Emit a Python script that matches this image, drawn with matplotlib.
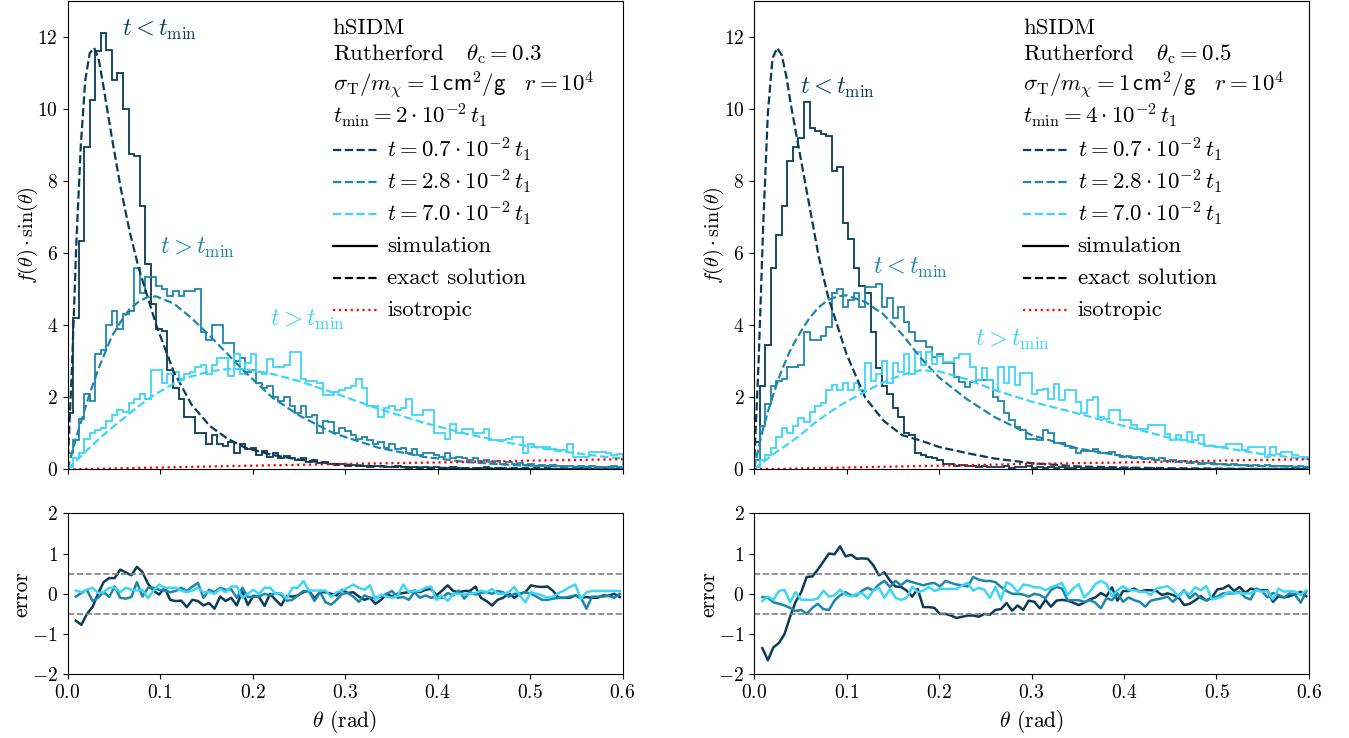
import numpy as np
import matplotlib
matplotlib.use("Agg")
import matplotlib.pyplot as plt
from matplotlib.lines import Line2D

plt.rcParams.update({
    "font.family": "serif",
    "font.serif": ["cmr10", "DejaVu Serif"],
    "mathtext.fontset": "cm",
    "axes.formatter.use_mathtext": True,
})

# ---------------- data ----------------
bin_edges = np.linspace(0.0, 0.6, 101)
err_theta = (bin_edges[1:-1] + bin_edges[2:]) / 2  # centres of bins 1..99

colors = ["#0b3c55", "#1e86ab", "#3dd5f8"]

# exact solutions (left panel, theta_c = 0.3)
theta_exact_l = [0, 0.0048, 0.0096, 0.0144, 0.0192, 0.024, 0.0288, 0.0336, 0.0384, 0.048,
                 0.0576, 0.0672, 0.0768, 0.0864, 0.096, 0.115, 0.134, 0.154, 0.173, 0.192,
                 0.221, 0.25, 0.288, 0.336, 0.384, 0.432, 0.48, 0.528, 0.576, 0.6]
exact_l_07 = [0, 2.8, 6.3, 9.0, 10.8, 11.55, 11.7, 11.4, 10.7, 9.2, 7.8, 6.6, 5.6, 4.8, 4.0,
              2.7, 1.8, 1.2, 0.85, 0.6, 0.4, 0.27, 0.15, 0.08, 0.05, 0.03, 0.02, 0.01, 0.01, 0.01]
exact_l_28 = [0, 0.45, 0.9, 1.3, 1.7, 2.1, 2.45, 2.8, 3.1, 3.7, 4.1, 4.45, 4.65, 4.78, 4.8,
              4.6, 4.2, 3.7, 3.2, 2.7, 2.0, 1.5, 1.0, 0.6, 0.35, 0.2, 0.12, 0.08, 0.05, 0.045]
exact_l_70 = [0, 0.12, 0.24, 0.36, 0.48, 0.6, 0.72, 0.83, 0.94, 1.15, 1.35, 1.55, 1.75, 1.93,
              2.1, 2.38, 2.58, 2.72, 2.78, 2.78, 2.65, 2.45, 2.12, 1.68, 1.3, 0.98, 0.72, 0.52,
              0.36, 0.3]

# exact solutions (right panel, theta_c = 0.5)
theta_exact_r = [0, 0.005, 0.01, 0.015, 0.02, 0.025, 0.03, 0.035, 0.04, 0.05, 0.06, 0.07,
                 0.08, 0.09, 0.10, 0.12, 0.14, 0.16, 0.18, 0.20, 0.23, 0.26, 0.30, 0.35, 0.40,
                 0.45, 0.50, 0.55, 0.60]
exact_r_07 = [0, 3.0, 6.8, 9.9, 11.4, 11.7, 11.5, 10.9, 10.1, 8.7, 7.3, 5.9, 4.8, 4.0, 3.2,
              2.0, 1.35, 0.95, 0.8, 0.62, 0.45, 0.3, 0.17, 0.08, 0.05, 0.03, 0.02, 0.01, 0.01]
exact_r_28 = [0, 0.6, 1.15, 1.6, 2.0, 2.4, 2.75, 3.05, 3.35, 3.8, 4.2, 4.5, 4.7, 4.8, 4.83,
              4.65, 4.3, 3.75, 3.1, 2.55, 1.95, 1.45, 0.95, 0.58, 0.36, 0.22, 0.14, 0.09, 0.06]
exact_r_70 = [0, 0.1, 0.2, 0.3, 0.4, 0.5, 0.58, 0.67, 0.76, 0.95, 1.17, 1.37, 1.55, 1.72, 1.88,
              2.15, 2.42, 2.62, 2.75, 2.72, 2.5, 2.2, 1.88, 1.55, 1.2, 0.87, 0.63, 0.42, 0.28]

theta_iso = [0, 0.1, 0.2, 0.3, 0.4, 0.5, 0.6]
iso = [0, 0.05, 0.1, 0.15, 0.19, 0.24, 0.28]

# simulated histograms, left panel
sim_l_07 = [1.55, 4.2, 6.35, 8.95, 10.25, 11.6, 12.1, 11.65, 10.8, 11.0, 10.0, 8.75, 8.7, 7.3,
            5.7, 4.6, 3.9, 3.85, 2.75, 2.25, 1.95, 1.45, 1.45, 1.0, 1.0, 0.7, 0.95, 0.7, 0.65,
            0.75, 0.45,
            0.7, 0.55, 0.6, 0.4, 0.5, 0.35, 0.45, 0.3, 0.38, 0.3, 0.25, 0.3, 0.2, 0.25, 0.18,
            0.2, 0.15, 0.12, 0.15, 0.1, 0.12, 0.08, 0.1, 0.06, 0.08, 0.1, 0.05, 0.06, 0.08, 0.05,
            0.04, 0.06, 0.03, 0.05, 0.04, 0.06, 0.03, 0.04, 0.05, 0.03, 0.04, 0.02, 0.04, 0.03,
            0.05, 0.02, 0.03, 0.04, 0.02, 0.03, 0.02, 0.04, 0.02, 0.03, 0.02, 0.03, 0.02, 0.02,
            0.03, 0.02, 0.02, 0.03, 0.01, 0.02, 0.02, 0.01, 0.02, 0.01, 0.02]
sim_l_28 = [0.45, 0.8, 1.4, 2.1, 1.9, 3.2, 3.3, 4.0, 4.4, 3.9, 4.3, 4.4, 5.6, 4.9, 5.35, 5.35,
            5.1, 5.0, 4.8, 4.95, 4.8, 4.95, 4.95, 5.0, 3.8, 3.6, 4.0, 4.0, 3.5, 3.5, 3.0,
            3.1, 2.7, 2.75, 2.4, 2.25, 2.3, 2.0, 1.9, 2.0, 1.75, 1.55, 1.75, 1.45, 1.5, 1.0,
            1.35, 1.3, 1.0, 1.15, 1.05, 0.95, 0.85, 0.9, 0.8, 0.7, 0.75, 0.6, 0.7, 0.55, 0.6,
            0.45, 0.55, 0.4, 0.45,
            0.45, 0.4, 0.35, 0.45, 0.3, 0.35, 0.3, 0.25, 0.3, 0.22, 0.25, 0.2, 0.22, 0.15, 0.2,
            0.15, 0.17, 0.12, 0.15, 0.1, 0.13, 0.1, 0.12, 0.08, 0.1, 0.09, 0.07, 0.1, 0.06, 0.08,
            0.06, 0.07, 0.05, 0.08, 0.05]
sim_l_70 = [0.07, 0.3, 0.45, 0.85, 1.0, 1.1, 1.15, 1.35, 1.5, 1.65, 1.6, 1.85, 1.95, 2.1, 1.95,
            2.75, 2.75, 2.4, 2.65, 2.7, 2.5, 2.65, 2.7, 2.85, 2.9, 2.65, 2.9, 3.1, 3.1, 2.6, 3.2,
            2.65, 2.95, 3.2, 2.7, 2.65, 3.05, 2.85, 2.85, 2.9, 3.25, 3.25, 2.5, 2.45, 2.45, 2.4,
            2.05, 2.05, 2.15, 2.2, 2.25, 2.3, 2.5, 2.25, 1.75, 1.75, 1.45, 1.7, 1.75, 1.65, 1.7,
            1.95,
            1.5, 1.5, 1.64, 1.64, 1.0, 1.0, 0.85, 1.27, 1.0, 1.13, 1.13, 1.0, 1.0, 1.13, 0.81,
            0.81, 0.81, 0.85, 0.9, 0.9, 0.45, 0.71, 0.62, 0.62, 0.62, 0.55, 0.53, 0.53, 0.71,
            0.35, 0.34, 0.34, 0.48, 0.48, 0.48, 0.45, 0.4, 0.42]

# simulated histograms, right panel
sim_r_07 = [0.77, 2.3, 3.45, 5.6, 6.5, 7.3, 8.55, 8.96, 9.2, 10.2, 9.47, 9.4, 9.3, 9.24, 8.27,
            8.4, 6.83, 6.4, 5.58, 5.1, 4.9, 3.8, 2.8, 2.3, 2.1, 1.7, 1.46, 1.0, 0.95, 0.44, 0.4,
            0.35, 0.3, 0.25, 0.15, 0.15, 0.1, 0.12, 0.08, 0.1, 0.06, 0.08, 0.05, 0.07, 0.05, 0.08,
            0.04, 0.06, 0.05, 0.08, 0.04, 0.05, 0.04, 0.06, 0.03, 0.05, 0.04, 0.03, 0.05, 0.03,
            0.04, 0.03, 0.02, 0.04, 0.03, 0.02, 0.03, 0.02, 0.03, 0.02, 0.02, 0.03, 0.02, 0.01,
            0.02, 0.02, 0.01, 0.02, 0.01, 0.02, 0.01, 0.02, 0.01, 0.01, 0.02, 0.01, 0.01, 0.02,
            0.01, 0.01, 0.01, 0.02, 0.01, 0.01, 0.01, 0.02, 0.01, 0.01, 0.01, 0.01]
sim_r_28 = [0.26, 1.2, 1.8, 2.3, 2.45, 2.5, 2.85, 2.85, 2.9, 3.8, 3.6, 3.6, 3.7, 3.95, 4.9, 5.0,
            4.5, 4.7, 4.9, 4.5, 5.05, 5.05, 5.15, 4.5, 4.75, 4.2, 4.5, 4.1, 3.8, 3.55, 3.55,
            3.4, 3.12, 3.2, 2.94, 2.94, 2.56, 2.42, 2.29, 2.42, 2.47, 2.47, 2.47, 2.0, 1.9, 1.55,
            1.36, 1.18, 1.1, 0.85, 0.85, 0.82, 1.08, 1.0, 0.73, 0.73, 0.65, 0.6, 0.44, 0.5, 0.5,
            0.57, 0.44,
            0.45, 0.48, 0.4, 0.35, 0.38, 0.3, 0.35, 0.28, 0.32, 0.25, 0.3, 0.22, 0.25, 0.2, 0.24,
            0.18, 0.2, 0.15, 0.18, 0.17, 0.14, 0.16, 0.12, 0.15, 0.11, 0.13, 0.1, 0.12, 0.09,
            0.11, 0.08, 0.1, 0.08, 0.09, 0.07, 0.09, 0.07]
sim_r_70 = [0.07, 0.26, 0.4, 0.58, 0.9, 1.14, 1.0, 1.2, 1.42, 1.3, 1.6, 1.75, 1.85, 2.2, 2.34,
            2.2, 2.4, 2.2, 2.4, 2.2, 2.95, 2.45, 2.65, 3.0, 2.4, 2.95, 2.7, 3.2, 2.65, 3.25, 2.9,
            3.26, 2.93, 3.15, 2.97, 2.97, 3.1, 3.2, 3.2, 2.84, 2.47, 2.8, 2.47, 2.19, 2.84, 2.4,
            2.84, 2.35, 2.66, 2.66, 2.1, 2.19, 2.24, 1.96, 2.38, 1.92, 2.19, 2.19, 1.88, 1.55,
            1.92, 2.01, 1.45,
            1.41, 1.64, 1.64, 1.36, 1.36, 1.22, 1.13, 1.13, 1.22, 1.22, 1.22, 0.99, 0.81, 0.95,
            0.81, 1.04, 0.81, 0.95, 0.66, 0.66, 0.62, 0.62, 0.71, 0.71, 0.71, 0.53, 0.62, 0.62,
            0.62, 0.34, 0.62, 0.43, 0.48, 0.48, 0.39, 0.34, 0.34]

# error, left panel
err_l_07 = [-0.67, -0.77, -0.5, -0.33, 0.0, 0.29, 0.39, 0.39, 0.6, 0.53, 0.46, 0.67, 0.54,
            0.25, 0.08, -0.02, 0.15, -0.15, -0.18, -0.17, -0.33, -0.15, -0.18, -0.29, -0.23,
            -0.37, -0.07, -0.18, -0.1, -0.29, 0.07, -0.28, -0.05, -0.08, -0.3, 0.0, -0.15,
            -0.29, -0.05, -0.07, -0.04, 0.04, 0.08, -0.12, 0.04, 0.04, 0.0,
            -0.04, 0.1, 0.02, 0.04, -0.07, -0.15, -0.1, -0.25, -0.15, 0.0, -0.07, 0.0, 0.02,
            0.04, 0.08, 0.04, 0.1, 0.12, -0.04, 0.08, 0.21, 0.07, 0.04, 0.07, 0.07, 0.18, -0.1,
            -0.18, -0.29, -0.15, -0.1, 0.02, -0.1, 0.0, 0.04, 0.21, 0.18, 0.17, 0.18, 0.07,
            -0.1, -0.1, -0.1, -0.04, -0.1, -0.08, -0.1, -0.1, -0.04, -0.05, 0.0, -0.08]
err_l_28 = [-0.07, 0.02, 0.1, -0.18, -0.1, 0.04, -0.08, 0.18, -0.1, -0.12, -0.08, 0.29, -0.07,
            0.15, 0.15, 0.1, 0.08, 0.04, 0.07, 0.15, 0.07, 0.18, 0.27, -0.1, 0.1, 0.04, 0.15,
            0.1, 0.11, -0.1, 0.15, -0.08, -0.07, -0.07, 0.0, -0.04, 0.02, -0.02, -0.17, -0.15,
            -0.04, 0.07, 0.07, -0.18, 0.04, -0.21, -0.27,
            -0.15, 0.0, 0.02, -0.07, -0.2, -0.04, -0.1, -0.1, -0.07, 0.0, 0.07, -0.1, -0.08,
            -0.15, 0.04, -0.1, -0.04, -0.1, -0.07, -0.1, 0.02, -0.04, 0.08, -0.12, 0.04, -0.02,
            0.02, 0.04, 0.0, 0.07, 0.04, -0.07, 0.0, 0.0, 0.04, 0.0, -0.07, -0.15, -0.15, -0.12,
            -0.1, -0.1, -0.07, -0.04, -0.1, -0.37, -0.07, -0.07, -0.07, -0.05, -0.1, 0.0]
err_l_70 = [0.08, 0.04, 0.1, 0.15, 0.02, 0.04, 0.15, 0.15, 0.04, 0.15, 0.1, 0.08, 0.1, -0.1,
            0.08, 0.23, 0.15, 0.15, 0.15, 0.08, 0.04, 0.08, 0.15, 0.04, 0.04, 0.0, 0.12, 0.04,
            0.18, 0.18, -0.1, 0.0, 0.1, 0.0, 0.15, 0.15, 0.0, 0.02, -0.12, 0.15, 0.15, 0.32,
            0.08, 0.08, 0.08, 0.08, -0.08,
            0.04, 0.08, 0.15, 0.23, 0.15, 0.1, 0.21, -0.15, -0.02, -0.07, -0.1, -0.04, 0.23,
            0.04, 0.07, 0.07, 0.15, 0.18, -0.15, -0.04, -0.18, 0.0, 0.0, -0.02, 0.0, 0.02, 0.08,
            0.04, 0.12, 0.0, 0.0, 0.04, 0.17, -0.04, -0.21, 0.04, 0.0, -0.04, -0.1, -0.07, 0.02,
            0.08, 0.17, 0.23, -0.12, 0.04, 0.07, 0.07, 0.07, 0.07, 0.07, 0.07]

# error, right panel
err_r_07 = [-1.35, -1.65, -1.33, -1.22, -1.0, -0.57, -0.2, 0.04, 0.42, 0.43, 0.6, 0.8, 1.0,
            0.98, 1.18, 0.93, 0.97, 0.87, 0.88, 0.87, 0.71, 0.46, 0.53, 0.33, 0.18, 0.17, 0.08,
            -0.07, 0.12, -0.33, -0.33, -0.35, -0.5, -0.5, -0.54, -0.6, -0.57, -0.54, -0.54,
            -0.57, -0.5, -0.52, -0.4, -0.38, -0.23, -0.42, -0.29, -0.4, -0.17,
            -0.2, -0.36, -0.15, -0.32, -0.17, -0.15, -0.17, -0.22, -0.28, -0.22, -0.14, -0.09,
            0.02, -0.06, 0.16, -0.17, 0.07, 0.07, 0.13, 0.05, 0.09, 0.09, 0.07, -0.03, 0.01,
            -0.03, -0.09, -0.28, -0.25, -0.16, -0.06, -0.17, -0.09, 0.11, 0.13, 0.21, 0.07, 0.17,
            0.02, 0.13, 0.09, 0.09, 0.09, -0.2, -0.06, -0.09, -0.06, -0.01, 0.05, -0.06]
err_r_28 = [-0.08, -0.1, -0.21, -0.25, -0.29, -0.35, -0.43, -0.4, -0.5, -0.35, -0.25, -0.38,
            -0.4, -0.17, -0.04, 0.04, -0.04, -0.04, 0.08, 0.15, 0.08, 0.23, 0.32, 0.17, 0.32,
            0.21, 0.33, 0.29, 0.25, 0.21, 0.25, 0.27, 0.18, 0.32, 0.27, 0.23, 0.21, 0.18, 0.42,
            0.35, 0.32, 0.32, 0.29, 0.17, 0.07, 0.0, 0.0, -0.02, -0.07,
            0.0, -0.03, -0.11, 0.09, 0.17, 0.13, -0.16, -0.16, -0.16, -0.2, -0.16, -0.22, -0.36,
            -0.11, -0.16, 0.01, -0.2, -0.09, -0.16, -0.2, -0.32, -0.17, -0.14, -0.11, -0.07,
            -0.2, -0.06, 0.09, -0.11, 0.01, -0.11, -0.16, -0.11, -0.07, 0.01, 0.01, 0.01, 0.05,
            -0.09, -0.14, 0.13, 0.07, -0.09, 0.02, -0.03, -0.09, 0.01, -0.03, -0.22, 0.05]
err_r_70 = [-0.18, -0.07, -0.15, 0.07, 0.1, -0.21, 0.04, -0.15, -0.15, -0.15, -0.12, 0.08,
            -0.07, -0.04, 0.1, -0.02, -0.07, 0.0, 0.02, -0.12, 0.08, 0.15, -0.1, 0.12, -0.1,
            -0.15, -0.1, 0.18, 0.04, 0.08, 0.17, 0.07, 0.12, 0.12, 0.12, 0.12, 0.21, 0.27, 0.08,
            0.15, 0.1, -0.1, 0.17, -0.15, 0.29, 0.21, 0.04, 0.23, 0.21,
            0.16, 0.16, 0.09, 0.16, 0.21, 0.27, -0.03, 0.13, 0.24, -0.09, 0.05, 0.24, 0.32, 0.25,
            -0.06, 0.09, 0.19, 0.09, 0.09, 0.05, 0.05, -0.03, 0.13, 0.16, 0.19, 0.09, -0.07, 0.07,
            -0.01, 0.16, 0.09, 0.19, -0.14, -0.11, -0.06, 0.05, 0.02, 0.02, 0.01, 0.01, 0.09,
            0.05, 0.07, -0.14, 0.13, 0.05, 0.07, 0.05, -0.03, 0.09]

legend_labels = [r"$t=0.7\cdot10^{-2}\,t_1$", r"$t=2.8\cdot10^{-2}\,t_1$",
                 r"$t=7.0\cdot10^{-2}\,t_1$", "simulation", "exact solution", "isotropic"]

panels = [
    dict(theta_c="0.3", tmin="2", theta_exact=theta_exact_l,
         exact=[exact_l_07, exact_l_28, exact_l_70],
         sim=[sim_l_07, sim_l_28, sim_l_70],
         err=[err_l_07, err_l_28, err_l_70],
         notes=[(0.059, 12.2, r"$t<t_\mathrm{min}$"), (0.10, 6.15, r"$t>t_\mathrm{min}$"),
                (0.219, 4.15, r"$t>t_\mathrm{min}$")],
         left=67.5, hx=0.478),
    dict(theta_c="0.5", tmin="4", theta_exact=theta_exact_r,
         exact=[exact_r_07, exact_r_28, exact_r_70],
         sim=[sim_r_07, sim_r_28, sim_r_70],
         err=[err_r_07, err_r_28, err_r_70],
         notes=[(0.05, 10.6, r"$t<t_\mathrm{min}$"), (0.129, 5.6, r"$t<t_\mathrm{min}$"),
                (0.239, 3.6, r"$t>t_\mathrm{min}$")],
         left=754, hx=0.485),
]

# ---------------- figure ----------------
W, H = 1349, 738
fig = plt.figure(figsize=(W / 100, H / 100), dpi=100)

for p in panels:
    x0 = p["left"] / W
    ax = fig.add_axes([x0, 1 - 469.3 / H, 555 / W, 468.3 / H])
    axe = fig.add_axes([x0, 1 - 674.3 / H, 555 / W, 161 / H])

    for c, ex, sim in zip(colors, p["exact"], p["sim"]):
        ax.stairs(sim, bin_edges, color=c, lw=1.3)
        ax.plot(p["theta_exact"], ex, color=c, ls="--", lw=1.6)
    ax.plot(theta_iso, iso, color="red", ls=":", lw=1.6)

    for (tx, ty, s), c in zip(p["notes"], colors):
        ax.text(tx, ty, s, color=c, fontsize=17.5, ha="left", va="center")

    # header text
    hx = p["hx"]
    header = ["hSIDM",
              r"Rutherford   $\theta_\mathrm{c}=" + p["theta_c"] + "$",
              r"$\sigma_\mathrm{T}/m_\chi=1\,\mathsf{cm}^2/\mathsf{g}\quad r=10^4$",
              r"$t_\mathrm{min}=" + p["tmin"] + r"\cdot10^{-2}\,t_1$"]
    for yy, s in zip([0.942, 0.887, 0.82, 0.754], header):
        ax.text(hx, yy, s, transform=ax.transAxes, fontsize=16.5, ha="left", va="center")

    # legend drawn row by row so that the rows are evenly spaced
    styles = [(c, "--") for c in colors] + [("black", "-"), ("black", "--"), ("red", ":")]
    for k, ((c, ls), lab) in enumerate(zip(styles, legend_labels)):
        yy = 0.682 - 0.0685 * k
        ax.add_line(Line2D([hx, hx + 0.08], [yy, yy], transform=ax.transAxes,
                           color=c, ls=ls, lw=1.6))
        ax.text(hx + 0.098, yy, lab, transform=ax.transAxes, fontsize=16.5,
                ha="left", va="center")

    ax.set_xlim(0, 0.6)
    ax.set_ylim(0, 13)
    ax.set_yticks([0, 2, 4, 6, 8, 10, 12])
    ax.tick_params(labelbottom=False, labelsize=14)
    ax.set_ylabel(r"$f(\theta)\cdot\sin(\theta)$", fontsize=14.5)
    ax.yaxis.set_label_coords(-0.05, 0.5)

    for c, e in zip(colors, p["err"]):
        axe.plot(err_theta[:len(e)], e, color=c, lw=1.8)
    axe.axhline(0.5, color="gray", ls="--", lw=1.2)
    axe.axhline(-0.5, color="gray", ls="--", lw=1.2)
    axe.set_xlim(0, 0.6)
    axe.set_ylim(-2, 2)
    axe.set_yticks([-2, -1, 0, 1, 2])
    axe.tick_params(labelsize=14)
    axe.set_ylabel("error", fontsize=15.5)
    axe.yaxis.set_label_coords(-0.065, 0.5)
    axe.set_xlabel(r"$\theta$ (rad)", fontsize=15.5)
    axe.xaxis.set_label_coords(0.5, -0.21)

fig.savefig("out.png", dpi=100)
